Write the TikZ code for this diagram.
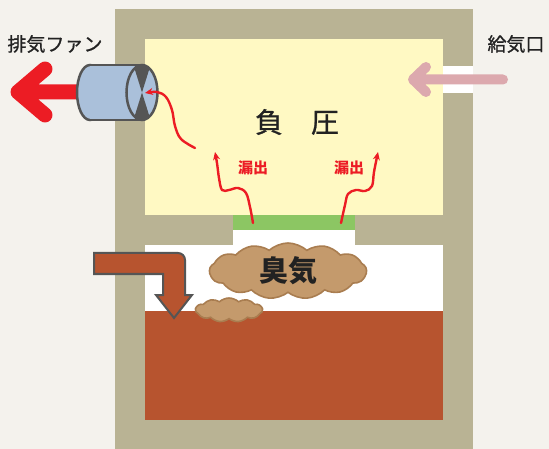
\documentclass[tikz,border=0pt]{standalone}
\usepackage{fontspec}
\newfontfamily\jp{Noto Sans CJK JP}
\newfontfamily\jpm{Noto Sans CJK JP}[FakeBold=0.9]
\usetikzlibrary{shapes.symbols,arrows.meta}

\definecolor{paper}{HTML}{F4F2ED}
\definecolor{wall}{HTML}{B9B394}
\definecolor{roomyel}{HTML}{FFF9C3}
\definecolor{seal}{HTML}{8CC663}
\definecolor{soil}{HTML}{B7542F}
\definecolor{leak}{HTML}{EC1C24}
\definecolor{intake}{HTML}{DCA9AE}
\definecolor{fanbody}{HTML}{AAC0DA}
\definecolor{fanline}{HTML}{555555}
\definecolor{odor}{HTML}{C49A6C}
\definecolor{odorline}{HTML}{A97D50}
\definecolor{ink}{HTML}{222222}

\tikzset{
  label jp/.style={font=\jpm\fontsize{19}{19}\selectfont, text=ink, inner sep=0pt},
  leak arrow/.style={draw=leak, line width=2.4pt, line cap=round,
    -{Stealth[length=8pt,width=7pt]}},
  leak text/.style={font=\jp\bfseries\fontsize{15}{15}\selectfont, text=leak, inner sep=0pt},
  puff/.style={cloud, cloud ignores aspect, fill=odor, draw=odorline, line width=1.6pt, inner sep=0pt},
}

\begin{document}
\begin{tikzpicture}[x=1pt,y=-1pt]
  \useasboundingbox (0,0) rectangle (549,449);
  \fill[paper] (0,0) rectangle (549,449);

  % building shell and rooms
  \fill[wall] (115,9) rectangle (473,449);
  \fill[roomyel] (145,39) rectangle (443,215);
  \fill[white] (443,66) rectangle (473,93);
  \fill[white] (233,215) rectangle (355,245);
  \fill[seal] (233,215) rectangle (355,230);
  \fill[white] (145,245) rectangle (443,311);
  \fill[soil] (145,311) rectangle (443,420);

  % exhaust arrow
  \coordinate (exTail) at (85,92);
  \coordinate (exTip) at (18,92);
  \draw[leak, line width=15pt, line cap=round, line join=round]
    (exTail) -- (exTip) (45,69) -- (exTip) -- (45,115);

  % exhaust fan
  \fill[fanbody, draw=fanline, line width=2.5pt] (90,92.5) ellipse[x radius=13, y radius=27.5];
  \fill[fanbody] (90,65) rectangle (142,120);
  \draw[fanline, line width=2.5pt] (90,65) -- (142,65) (90,120) -- (142,120);
  \fill[fanbody] (142,92.5) ellipse[x radius=15.5, y radius=27.5];
  \begin{scope}
    \clip (142,92.5) ellipse[x radius=15.5, y radius=27.5];
    \fill[fanline] (132.5,62) -- (151.5,62) -- (142,92.5) -- cycle;
    \fill[fanline] (132.5,123) -- (151.5,123) -- (142,92.5) -- cycle;
  \end{scope}
  \draw[fanline, line width=2.5pt] (142,92.5) ellipse[x radius=15.5, y radius=27.5];
  \coordinate (fan) at (145,93);

  % supply air arrow
  \coordinate (inTail) at (503,79.5);
  \coordinate (inTip) at (413,79.5);
  \draw[intake, line width=10pt, line cap=round, line join=round]
    (inTail) -- (inTip) (426,67) -- (inTip) -- (426,92);

  % labels
  \node[label jp] (exhaustLbl) at (55,44) {排気ファン};
  \node[label jp] (supplyLbl) at (516,44) {給気口};
  \node[font=\jpm\fontsize{28}{28}\selectfont, text=ink, inner sep=0pt] (negp) at (297,122) {負　圧};

  % leakage arrows
  \coordinate (sealL) at (253,223);
  \coordinate (sealR) at (341,223);
  \coordinate (upL) at (215,152);
  \coordinate (upR) at (378,152);
  \draw[leak arrow] plot[smooth, tension=0.6] coordinates
    {(sealL) (250,207) (246,193) (238,188) (229,190) (222,190) (219,178) (217,163) (upL)};
  \draw[leak arrow] plot[smooth, tension=0.6] coordinates
    {(sealR) (345,205) (348,194) (356,190) (365,191) (372,186) (374,172) (upR)};
  \coordinate (room) at (195,148);
  \draw[leak arrow] plot[smooth, tension=0.6] coordinates
    {(room) (181,139) (175,126) (172,110) (166,97) (157,92) (fan)};
  \node[leak text] (leakL) at (253,168) {漏出};
  \node[leak text] (leakR) at (349,168) {漏出};

  % odour clouds
  \node[puff, cloud puffs=13, cloud puff arc=85, minimum width=157pt, minimum height=56pt] (odour) at (288,271) {};
  \node[font=\jp\bfseries\fontsize{29}{29}\selectfont, text=ink, inner sep=0pt] (odourLbl) at (288,271) {臭気};
  \node[puff, cloud puffs=11, cloud puff arc=85, minimum width=67pt, minimum height=24pt] (odourSmall) at (229,310) {};

  % downward bent arrow
  \draw[fill=soil, draw=fanline, line width=2pt, line join=miter]
    {[rounded corners=7pt] (94,253) -- (185,253) -- (185,275)} -- (185,295) -- (192,295) -- (174,318)
    -- (156,295) -- (163,295) -- (163,274) -- (94,274) -- cycle;
\end{tikzpicture}
\end{document}
